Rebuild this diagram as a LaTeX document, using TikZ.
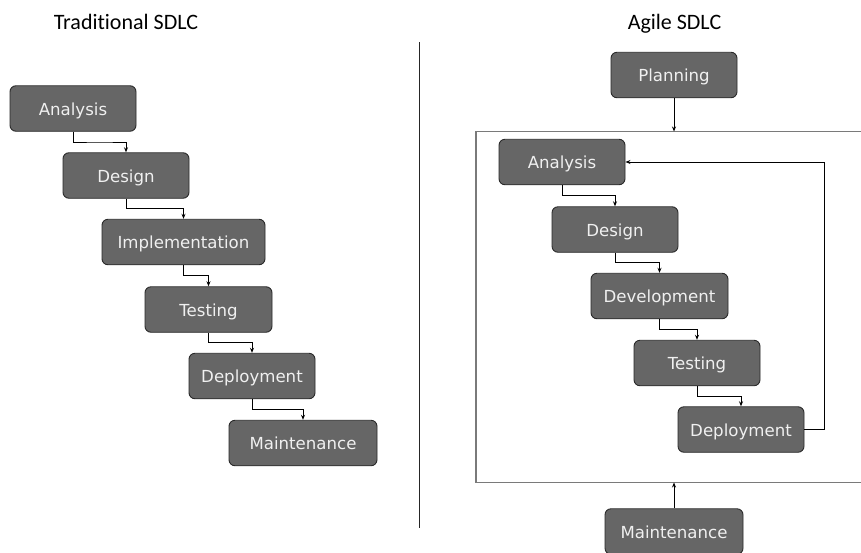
\documentclass[tikz,border=0pt]{standalone}
\usepackage{fontspec}
\setmainfont[Ligatures=NoCommon]{Carlito}
\newfontfamily\boxfont{DejaVu Sans}
\usetikzlibrary{arrows.meta,calc}
\definecolor{boxfill}{HTML}{666666}
\definecolor{boxedge}{HTML}{2A2A2A}
\definecolor{boxtext}{HTML}{F0F0F0}
\definecolor{framegray}{HTML}{7A7A7A}
\tikzset{
  phase/.style={draw=boxedge, line width=0.9pt, fill=boxfill, rounded corners=6pt,
    text=boxtext, font=\boxfont\fontsize{16.6}{18}\selectfont,
    text height=13pt, text depth=0pt,
    minimum height=45.5pt, inner sep=0pt, anchor=center},
  conn/.style={draw=black, line width=0.8pt, -{Stealth[length=5pt,width=4pt]}},
  frame/.style={draw=framegray, line width=1.3pt},
  heading/.style={font=\fontsize{22}{24}\selectfont, anchor=base, inner sep=0pt},
}
\begin{document}
\begin{tikzpicture}[x=1pt,y=-1pt]
\clip (0,0) rectangle (861,552);
\fill[white] (0,0) rectangle (861,552);

% headings and divider
\node[heading] (htrad) at (126,29) {Traditional SDLC};
\node[heading] (hagile) at (674.5,29) {Agile SDLC};
\coordinate (divtop) at (419,42);
\coordinate (divbot) at (419,528);
\draw[line width=1pt, black!85] (divtop) -- (divbot);

% traditional waterfall
\node[phase, minimum width=126pt] (ta) at (73,108.5) {Analysis};
\node[phase, minimum width=126pt] (td) at (126,175.5) {Design};
\node[phase, minimum width=163pt] (ti) at (183.5,242) {Implementation};
\node[phase, minimum width=127pt] (tt) at (208.5,309.5) {Testing};
\node[phase, minimum width=126pt] (tp) at (252,376) {Deployment};
\node[phase, minimum width=148pt] (tm) at (303,443) {Maintenance};

\foreach \a/\b in {ta/td, td/ti, ti/tt, tt/tp, tp/tm}
  \draw[conn] (\a.south) |- ($(\a.south)!0.5!(\b.north)$) -| (\b.north);

% agile cycle
\coordinate (frametl) at (476,131.5);
\coordinate (framebr) at (900,482.5);
\draw[frame] (frametl) rectangle (framebr);

\node[phase, minimum width=126pt] (ap) at (674,75) {Planning};
\node[phase, minimum width=126pt] (aa) at (562,162) {Analysis};
\node[phase, minimum width=126pt] (ad) at (615,229.5) {Design};
\node[phase, minimum width=137pt] (av) at (659.5,296) {Development};
\node[phase, minimum width=126pt] (at) at (697,363) {Testing};
\node[phase, minimum width=126pt] (ay) at (741,429.5) {Deployment};
\node[phase, minimum width=138pt] (am) at (674,531.5) {Maintenance};

\draw[conn] (ap.south) -- (ap.south |- frametl);
\draw[conn] (am.north) -- (am.north |- framebr);

\foreach \a/\b in {aa/ad, ad/av, av/at, at/ay}
  \draw[conn] (\a.south) |- ($(\a.south)!0.5!(\b.north)$) -| (\b.north);

\draw[conn] (ay.east) -- ++(20,0) |- (aa.east);
\end{tikzpicture}
\end{document}
